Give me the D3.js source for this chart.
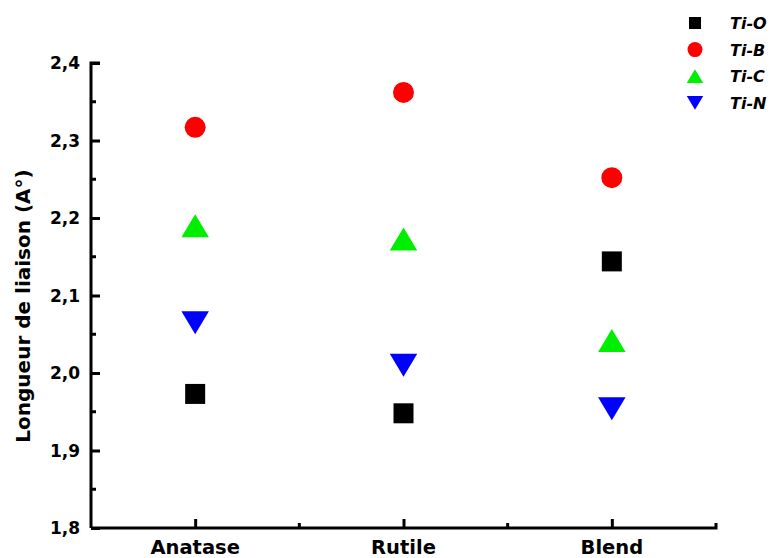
<!DOCTYPE html>
<html>
<head>
<meta charset="utf-8">
<script src="https://cdn.jsdelivr.net/npm/d3@7"></script>
<style>
  html, body { margin: 0; padding: 0; background: #fff; }
  svg { display: block; font-family: "DejaVu Sans", sans-serif; }
</style>
</head>
<body>
<svg id="chart" width="773" height="558"></svg>
<script>
// Bond lengths (Å) per TiO2 phase
const categories = ["Anatase", "Rutile", "Blend"];
const seriesNames = ["Ti-O", "Ti-B", "Ti-C", "Ti-N"];
const tiO = [1.973, 1.948, 2.144];
const tiB = [2.317, 2.362, 2.252];
const tiC = [2.190, 2.173, 2.042];
const tiN = [2.065, 2.010, 1.954];
const yTicks = [1.8, 1.9, 2.0, 2.1, 2.2, 2.3, 2.4];
const yTickLabels = ["1,8", "1,9", "2,0", "2,1", "2,2", "2,3", "2,4"];
const yLabel = "Longueur de liaison (A°)";

const series = [
  { name: seriesNames[0], values: tiO, color: "#000000", shape: "square" },
  { name: seriesNames[1], values: tiB, color: "#ff0000", shape: "circle" },
  { name: seriesNames[2], values: tiC, color: "#00ee00", shape: "up" },
  { name: seriesNames[3], values: tiN, color: "#0000ff", shape: "down" }
];

const svg = d3.select("#chart");
const plotLeft = 91, plotRight = 716, plotTop = 63, plotBottom = 528;
const lineW = 3;

const x = d3.scaleLinear().domain([0.5, 3.5]).range([plotLeft, plotRight]);
const y = d3.scaleLinear().domain([1.8, 2.4]).range([plotBottom, plotTop]);

// marker path generator (size in px)
function markerPath(shape, s) {
  const h = s / 2;
  if (shape === "square") return `M${-h},${-h}H${h}V${h}H${-h}Z`;
  if (shape === "circle") return d3.symbol(d3.symbolCircle, Math.PI * h * h)();
  if (shape === "up") return `M0,${-s * 0.46}L${s * 0.55},${s * 0.46}L${-s * 0.55},${s * 0.46}Z`;
  if (shape === "down") return `M0,${s * 0.46}L${s * 0.55},${-s * 0.46}L${-s * 0.55},${-s * 0.46}Z`;
}
const markerSize = { square: 20, circle: 21, up: 25, down: 25 };

// Axes
const axisG = svg.append("g");
// minor y ticks
const yMinor = d3.range(0, 6).map(i => 1.85 + i * 0.1);
axisG.append("g").selectAll("line").data(yMinor).join("line")
  .attr("x1", plotLeft).attr("x2", plotLeft + 5)
  .attr("y1", d => y(d)).attr("y2", d => y(d))
  .style("stroke", "#000").style("stroke-width", lineW);

const yAxis = d3.axisRight(y).tickValues(yTicks).tickSize(9).tickFormat("");
axisG.append("g").attr("transform", `translate(${plotLeft},0)`).call(yAxis)
  .call(g => g.select(".domain").attr("d", `M9,${plotTop}H0V${plotBottom}`)
    .style("stroke", "#000").style("stroke-width", lineW))
  .call(g => g.selectAll(".tick line").style("stroke", "#000").style("stroke-width", lineW));

axisG.append("g").selectAll("text").data(yTicks).join("text")
  .attr("x", 80).attr("y", d => y(d) + 6)
  .attr("text-anchor", "end")
  .attr("font-size", 17).attr("font-weight", "bold")
  .text((d, i) => yTickLabels[i]);

// x axis
const xMinor = [1.5, 2.5];
axisG.append("g").selectAll("line").data(xMinor).join("line")
  .attr("x1", d => x(d)).attr("x2", d => x(d))
  .attr("y1", plotBottom).attr("y2", plotBottom - 5)
  .style("stroke", "#000").style("stroke-width", lineW);

const xAxis = d3.axisTop(x).tickValues([1, 2, 3]).tickSize(9)
  .tickFormat("");
axisG.append("g").attr("transform", `translate(0,${plotBottom})`).call(xAxis)
  .call(g => g.select(".domain").attr("d", `M${plotLeft},0H${plotRight}V-5`)
    .style("stroke", "#000").style("stroke-width", lineW))
  .call(g => g.selectAll(".tick line").style("stroke", "#000").style("stroke-width", lineW));

axisG.append("g").selectAll("text").data(categories).join("text")
  .attr("x", (d, i) => x(i + 1)).attr("y", 554)
  .attr("text-anchor", "middle")
  .attr("font-size", 19.5).attr("font-weight", "bold")
  .text(d => d);

// y label
svg.append("text")
  .attr("transform", `translate(30,306) rotate(-90)`)
  .attr("text-anchor", "middle")
  .attr("font-size", 20).attr("font-weight", "bold")
  .text(yLabel);

// Points
series.forEach(s => {
  svg.append("g").selectAll("path").data(s.values).join("path")
    .attr("transform", (d, i) => `translate(${x(i + 1)},${y(d)})`)
    .attr("d", markerPath(s.shape, markerSize[s.shape]))
    .attr("fill", s.color);
});

// Legend
const legendSize = { square: 12, circle: 15, up: 15, down: 15 };
const legend = svg.append("g");
series.forEach((s, i) => {
  const ly = 23 + i * 26.6;
  legend.append("path")
    .attr("transform", `translate(695,${ly})`)
    .attr("d", markerPath(s.shape, legendSize[s.shape]))
    .attr("fill", s.color);
  legend.append("text")
    .attr("x", 730).attr("y", ly + 6)
    .attr("font-size", 16).attr("font-weight", "bold").attr("font-style", "italic")
    .text(s.name);
});
</script>
</body>
</html>
